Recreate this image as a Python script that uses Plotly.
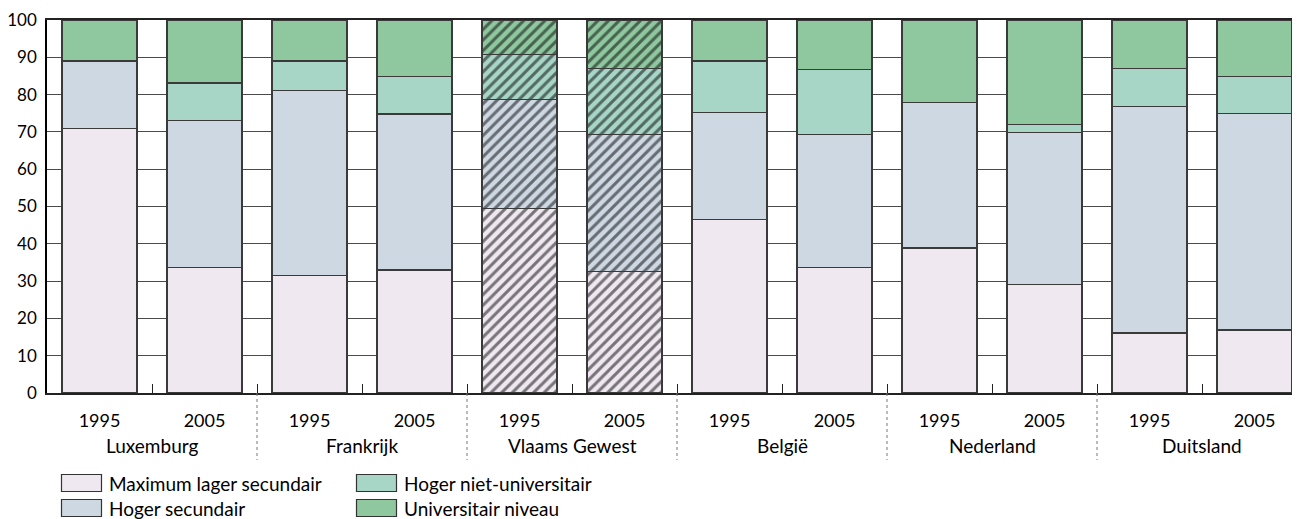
import plotly.graph_objects as go

# Landen en jaren
landen = ["Luxemburg", "Frankrijk", "Vlaams Gewest", "België", "Nederland", "Duitsland"]
jaren = ["1995", "2005"]

# Aandeel per opleidingsniveau (%), per land: 1995, 2005
max_lager = [71.0, 33.7, 31.6, 33.0, 49.5, 32.6, 46.5, 33.7, 38.9, 29.0, 16.1, 16.9]
hoger_sec = [18.0, 39.4, 49.5, 41.8, 29.2, 36.7, 28.6, 35.6, 39.0, 40.9, 60.8, 58.0]
niet_univ = [0.0, 10.0, 7.9, 10.1, 12.1, 17.8, 13.9, 17.4, 0.0, 2.0, 10.1, 10.0]
univ = [11.0, 16.9, 11.0, 15.1, 9.2, 12.9, 11.0, 13.3, 22.1, 28.1, 13.0, 15.1]

reeksen = ["Maximum lager secundair", "Hoger secundair", "Hoger niet-universitair", "Universitair niveau"]
kleuren = ["#efe8f1", "#cdd8e2", "#a7d5c6", "#8fc79f"]
waarden = [max_lager, hoger_sec, niet_univ, univ]

x = list(range(len(max_lager)))
hatch = ["/" if landen[i // 2] == "Vlaams Gewest" else "" for i in x]

FONT = "Lato"
# de pagina heeft 8px body-marge; figuur daarom kleiner dan het venster
W, H = 1293, 511
L, R, T, B = 39, 9, 12, 126
pw, ph = W - L - R, H - T - B
PL, PB = 47, 393  # linkerrand / onderrand plotvlak in vensterpixels


def px(v):
    return (v - PL) / pw


def py(v):
    return (PB - v) / ph


fig = go.Figure()
for naam, kleur, vals in zip(reeksen, kleuren, waarden):
    fig.add_trace(go.Bar(
        x=x, y=vals, name=naam, width=0.714,
        marker=dict(color=kleur, line=dict(color="#3a3a3a", width=1.2),
                    pattern=dict(shape=hatch, fgcolor="black", size=7.5, solidity=0.4)),
        showlegend=False,
    ))

fig.update_layout(
    barmode="stack",
    width=W, height=H,
    margin=dict(l=L, r=R, t=T, b=B),
    plot_bgcolor="white", paper_bgcolor="white",
    font=dict(family=FONT, size=18, color="black"),
)

fig.update_xaxes(
    range=[-0.5, 11.357], automargin=False,
    tickvals=x, ticktext=jaren * len(landen),
    ticks="", ticklabelstandoff=11,
    showline=True, linecolor="#222", linewidth=1.5, mirror=True,
    showgrid=False, zeroline=False,
    minor=dict(tickvals=[i + 0.5 for i in x[:-1]], ticks="inside", ticklen=9,
               tickcolor="#222", tickwidth=1.2, showgrid=False),
)
fig.update_yaxes(
    range=[0, 100], dtick=10, automargin=False,
    ticks="", ticklabelstandoff=5, ticklabeloverflow="allow",
    tickfont=dict(size=17),
    showline=True, linecolor="black", linewidth=1.5,
    showgrid=True, gridcolor="#4a4a4a", gridwidth=1.2, zeroline=False,
)

# landnamen en scheidingslijnen
for g, land in enumerate(landen):
    fig.add_annotation(x=2 * g + 0.5, y=py(445), xref="x", yref="paper",
                       text=land, showarrow=False, yanchor="middle",
                       font=dict(family=FONT, size=19))
    if g > 0:
        fig.add_shape(type="line", x0=2 * g - 0.5, x1=2 * g - 0.5, xref="x",
                      y0=0, y1=py(460), yref="paper",
                      line=dict(color="#777", width=1, dash="dot"))

# legenda
leg_pos = [(61.5, 483), (61.5, 508), (356.5, 483), (356.5, 508)]
for naam, kleur, (lx, ly) in zip(reeksen, kleuren, leg_pos):
    fig.add_shape(type="rect", xref="paper", yref="paper",
                  x0=px(lx), x1=px(lx + 40),
                  y0=py(ly - 8.5), y1=py(ly + 8.5),
                  fillcolor=kleur, line=dict(color="#333", width=1.2))
    fig.add_annotation(x=px(lx + 45), y=py(ly), xref="paper", yref="paper",
                       text=naam, showarrow=False, xanchor="left", yanchor="middle",
                       font=dict(family=FONT, size=19))

fig.write_html("out.html")
